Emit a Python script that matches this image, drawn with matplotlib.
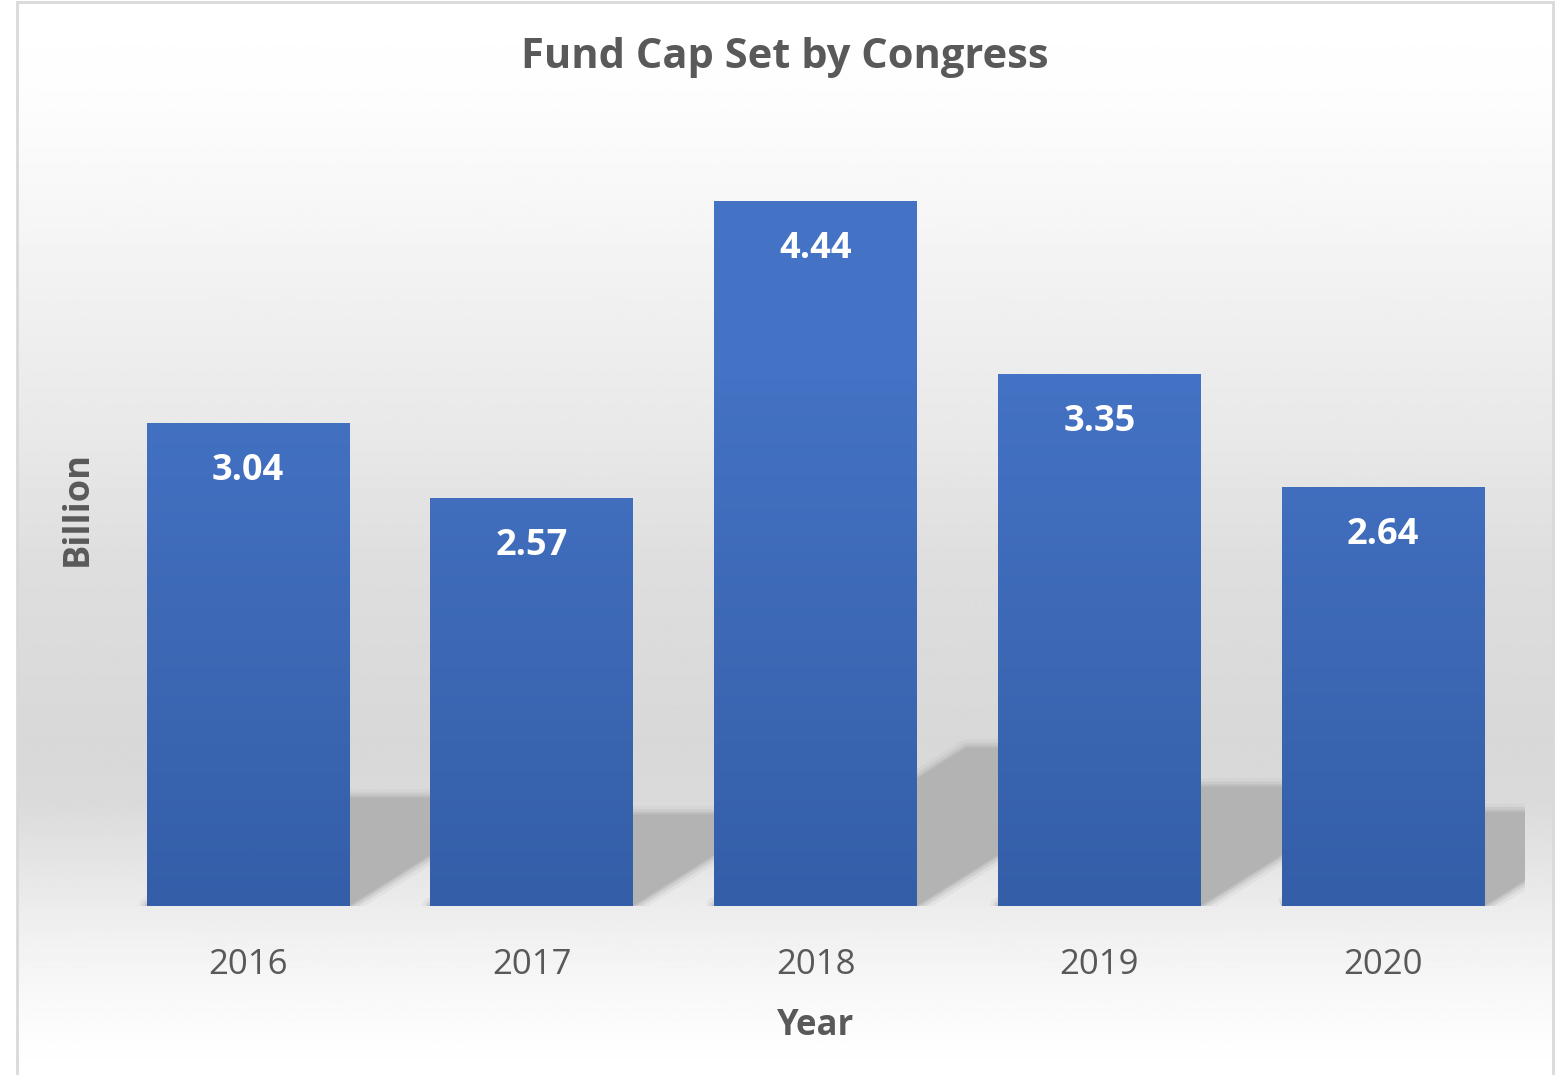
import numpy as np
import matplotlib
matplotlib.use("Agg")
import matplotlib.pyplot as plt
from matplotlib.colors import LinearSegmentedColormap
from matplotlib.patches import Polygon, Rectangle

plt.rcParams['font.family'] = ['Open Sans', 'DejaVu Sans']

years = ['2016', '2017', '2018', '2019', '2020']
funds = [3.04, 2.57, 4.44, 3.35, 2.64]

TEXT = '#595959'

fig = plt.figure(figsize=(15.56, 10.75), dpi=100)

# chart background: vertical grey gradient inside the chart border
bg_ax = fig.add_axes([17 / 1556, 0, 1536 / 1556, 1 - 2 / 1075], zorder=0)
stops_px = [0, 90, 200, 300, 440, 560, 650, 740, 800, 880, 930, 990, 1040, 1075]
stops_lv = [255, 253, 247, 240, 232, 222, 219, 216, 218, 232, 240, 248, 253, 255]
rows = np.interp(np.arange(1075), stops_px, stops_lv) / 255.0
bg = np.repeat(rows[:, None], 4, axis=1)
bg_ax.imshow(bg, cmap='gray', vmin=0, vmax=1, aspect='auto', extent=[0, 1, 0, 1],
             interpolation='bilinear')
bg_ax.set_axis_off()
fig.patches.append(Rectangle((17 / 1556, -0.01), 1536 / 1556, 1 - 2 / 1075 + 0.01,
                             transform=fig.transFigure, fill=False,
                             edgecolor='#d9d9d9', linewidth=2, zorder=5))

ax = fig.add_axes([106 / 1556, 1 - 906 / 1075, (1525 - 106) / 1556, (906 - 113) / 1075],
                  zorder=1)
ax.patch.set_alpha(0)
x = np.arange(len(years))
bars = ax.bar(x, funds, width=0.714, color='none', zorder=3)
ax.set_xlim(-0.5, len(years) - 0.5)
ax.set_ylim(0, 5)

# perspective shadows behind the bars
for b in bars:
    x0, w, h = b.get_x(), b.get_width(), b.get_height()
    sh = 0.225 * h
    dx = 0.2 * h
    pts = [(x0, 0), (x0 + w, 0), (x0 + w + dx, sh), (x0 + dx, sh)]
    for lw, a in [(12, 0.15), (7, 0.3), (3, 0.5)]:
        ax.add_patch(Polygon(pts, closed=True, facecolor='none', edgecolor='#b3b3b3',
                             linewidth=lw, alpha=a, joinstyle='round', zorder=1))
    ax.add_patch(Polygon(pts, closed=True, facecolor='#b3b3b3', edgecolor='none', zorder=2))

# gradient fill of the bars
bar_cmap = LinearSegmentedColormap.from_list('bars', ['#345ea8', '#3c68b5', '#4472c4', '#4472c4'])
for b in bars:
    x0, w, h = b.get_x(), b.get_width(), b.get_height()
    yy = np.linspace(h, 0, 200)[:, None]
    ax.imshow(yy / 5.0, cmap=bar_cmap, vmin=0, vmax=1, aspect='auto',
              extent=[x0, x0 + w, 0, h], interpolation='bilinear', zorder=3)
    ax.text(x0 + w / 2, h - 0.3, f'{h:.2f}', ha='center', va='center',
            color='white', fontsize=26, fontweight='bold', zorder=4)

ax.set_xticks(x)
ax.set_xticklabels(years, fontsize=25, color=TEXT)
ax.tick_params(axis='x', length=0, pad=30)
ax.set_yticks([])
for s in ax.spines.values():
    s.set_visible(False)
ax.set_xlabel('Year', fontsize=25, fontweight='bold', color=TEXT, labelpad=19)

fig.text(78 / 1556, 1 - 509 / 1075, 'Billion', rotation=90, ha='center', va='center',
         fontsize=26, fontweight='bold', color=TEXT)
fig.text(785 / 1556, 1 - 57 / 1075, 'Fund Cap Set by Congress', ha='center', va='center',
         fontsize=30, fontweight='bold', color=TEXT)

fig.savefig('out.png', dpi=100)
